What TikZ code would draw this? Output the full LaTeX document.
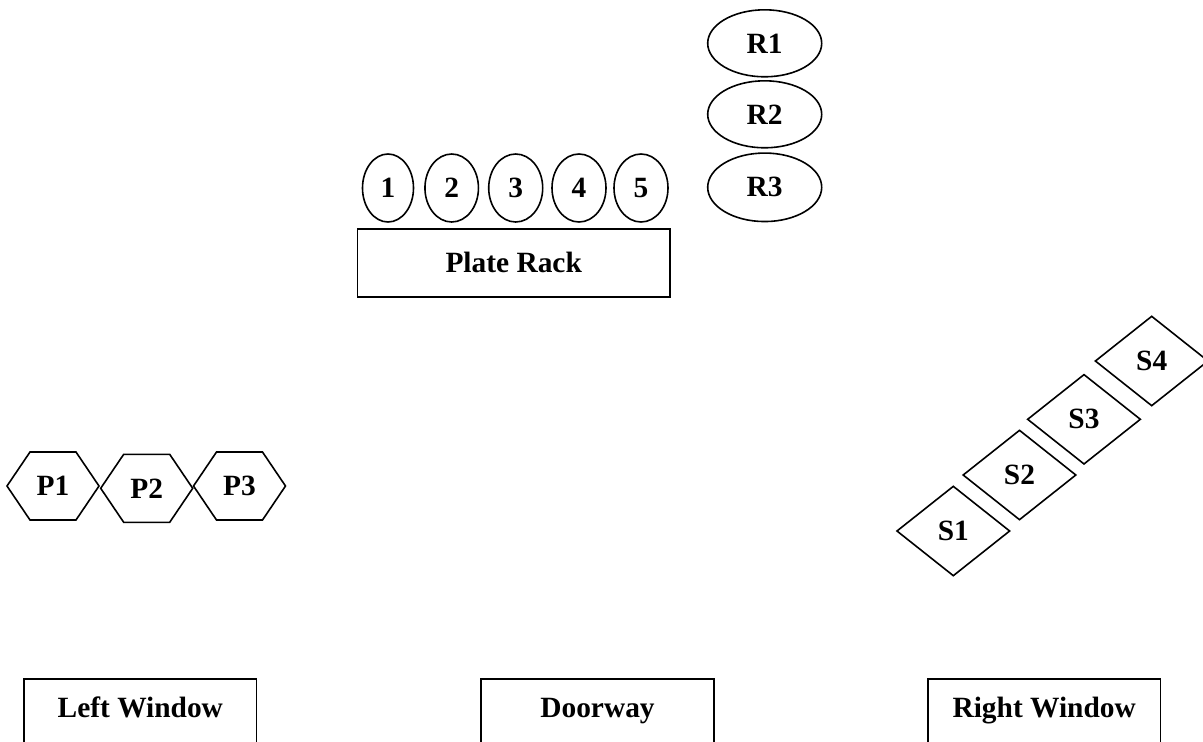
\documentclass[tikz,border=0pt]{standalone}
\usepackage{fontspec}
\setmainfont{Liberation Serif}
\usetikzlibrary{shapes.geometric,calc}
\tikzset{
  lbl/.style={font=\fontsize{29.4}{34}\selectfont\bfseries, inner sep=0pt},
  base/.style={lbl, draw, line width=1.6pt},
  plate/.style={base, ellipse, minimum width=54pt, minimum height=68pt},
  rack/.style={base, ellipse, minimum width=114pt, minimum height=67pt},
  box/.style={base, rectangle, minimum width=312.7pt, minimum height=68pt},
  seat/.style={base, diamond, aspect=1.26, minimum width=113.3pt, minimum height=90pt},
  wbox/.style={base, rectangle, anchor=north, minimum width=232.7pt, text height=38.7pt, text depth=35pt},
  hexline/.style={line width=1.6pt, line join=miter}
}
\newcommand\hexaround[1]{%
  \draw[hexline] ([shift={(-46,0)}]#1.center) -- ([shift={(-23,-34)}]#1.center) -- ([shift={(23,-34)}]#1.center)
   -- ([shift={(46,0)}]#1.center) -- ([shift={(23,34)}]#1.center) -- ([shift={(-23,34)}]#1.center) -- cycle;}
\begin{document}
\begin{tikzpicture}[x=1pt,y=-1pt]
\path[use as bounding box, clip] (0,0) rectangle (1203,742);
\fill[white] (0,0) rectangle (1203,742);
% plates
\node[plate, minimum width=51pt] (n1) at (388,188) {1};
\node[plate, minimum width=53.5pt] (n2) at (451.7,188) {2};
\node[plate] (n3) at (515.7,188) {3};
\node[plate] (n4) at (579,188) {4};
\node[plate] (n5) at (641,188) {5};
\node[box] (rackbox) at (513.7,262.7) {Plate Rack};
% R
\node[rack] (r1) at (764.7,43.3) {R1};
\node[rack] (r2) at (764.7,114.3) {R2};
\node[rack, minimum height=68.5pt] (r3) at (764.7,187.3) {R3};
% hexagons
\node[lbl] (p1) at (53,486) {P1};
\node[lbl] (p2) at (146.7,488.3) {P2};
\node[lbl] (p3) at (239.5,486) {P3};
\hexaround{p1}
\hexaround{p2}
\hexaround{p3}
% diamonds
\node[seat] (s1) at (953.3,531) {S1};
\node[seat] (s2) at (1019.5,475) {S2};
\node[seat] (s3) at (1084,419.3) {S3};
\node[seat] (s4) at (1151.7,361) {S4};
% windows / door
\node[wbox] (lw) at (140.3,678.3) {Left Window};
\node[wbox] (dw) at (597.5,678.3) {Doorway};
\node[wbox] (rw) at (1044.2,678.3) {Right Window};
\end{tikzpicture}
\end{document}
